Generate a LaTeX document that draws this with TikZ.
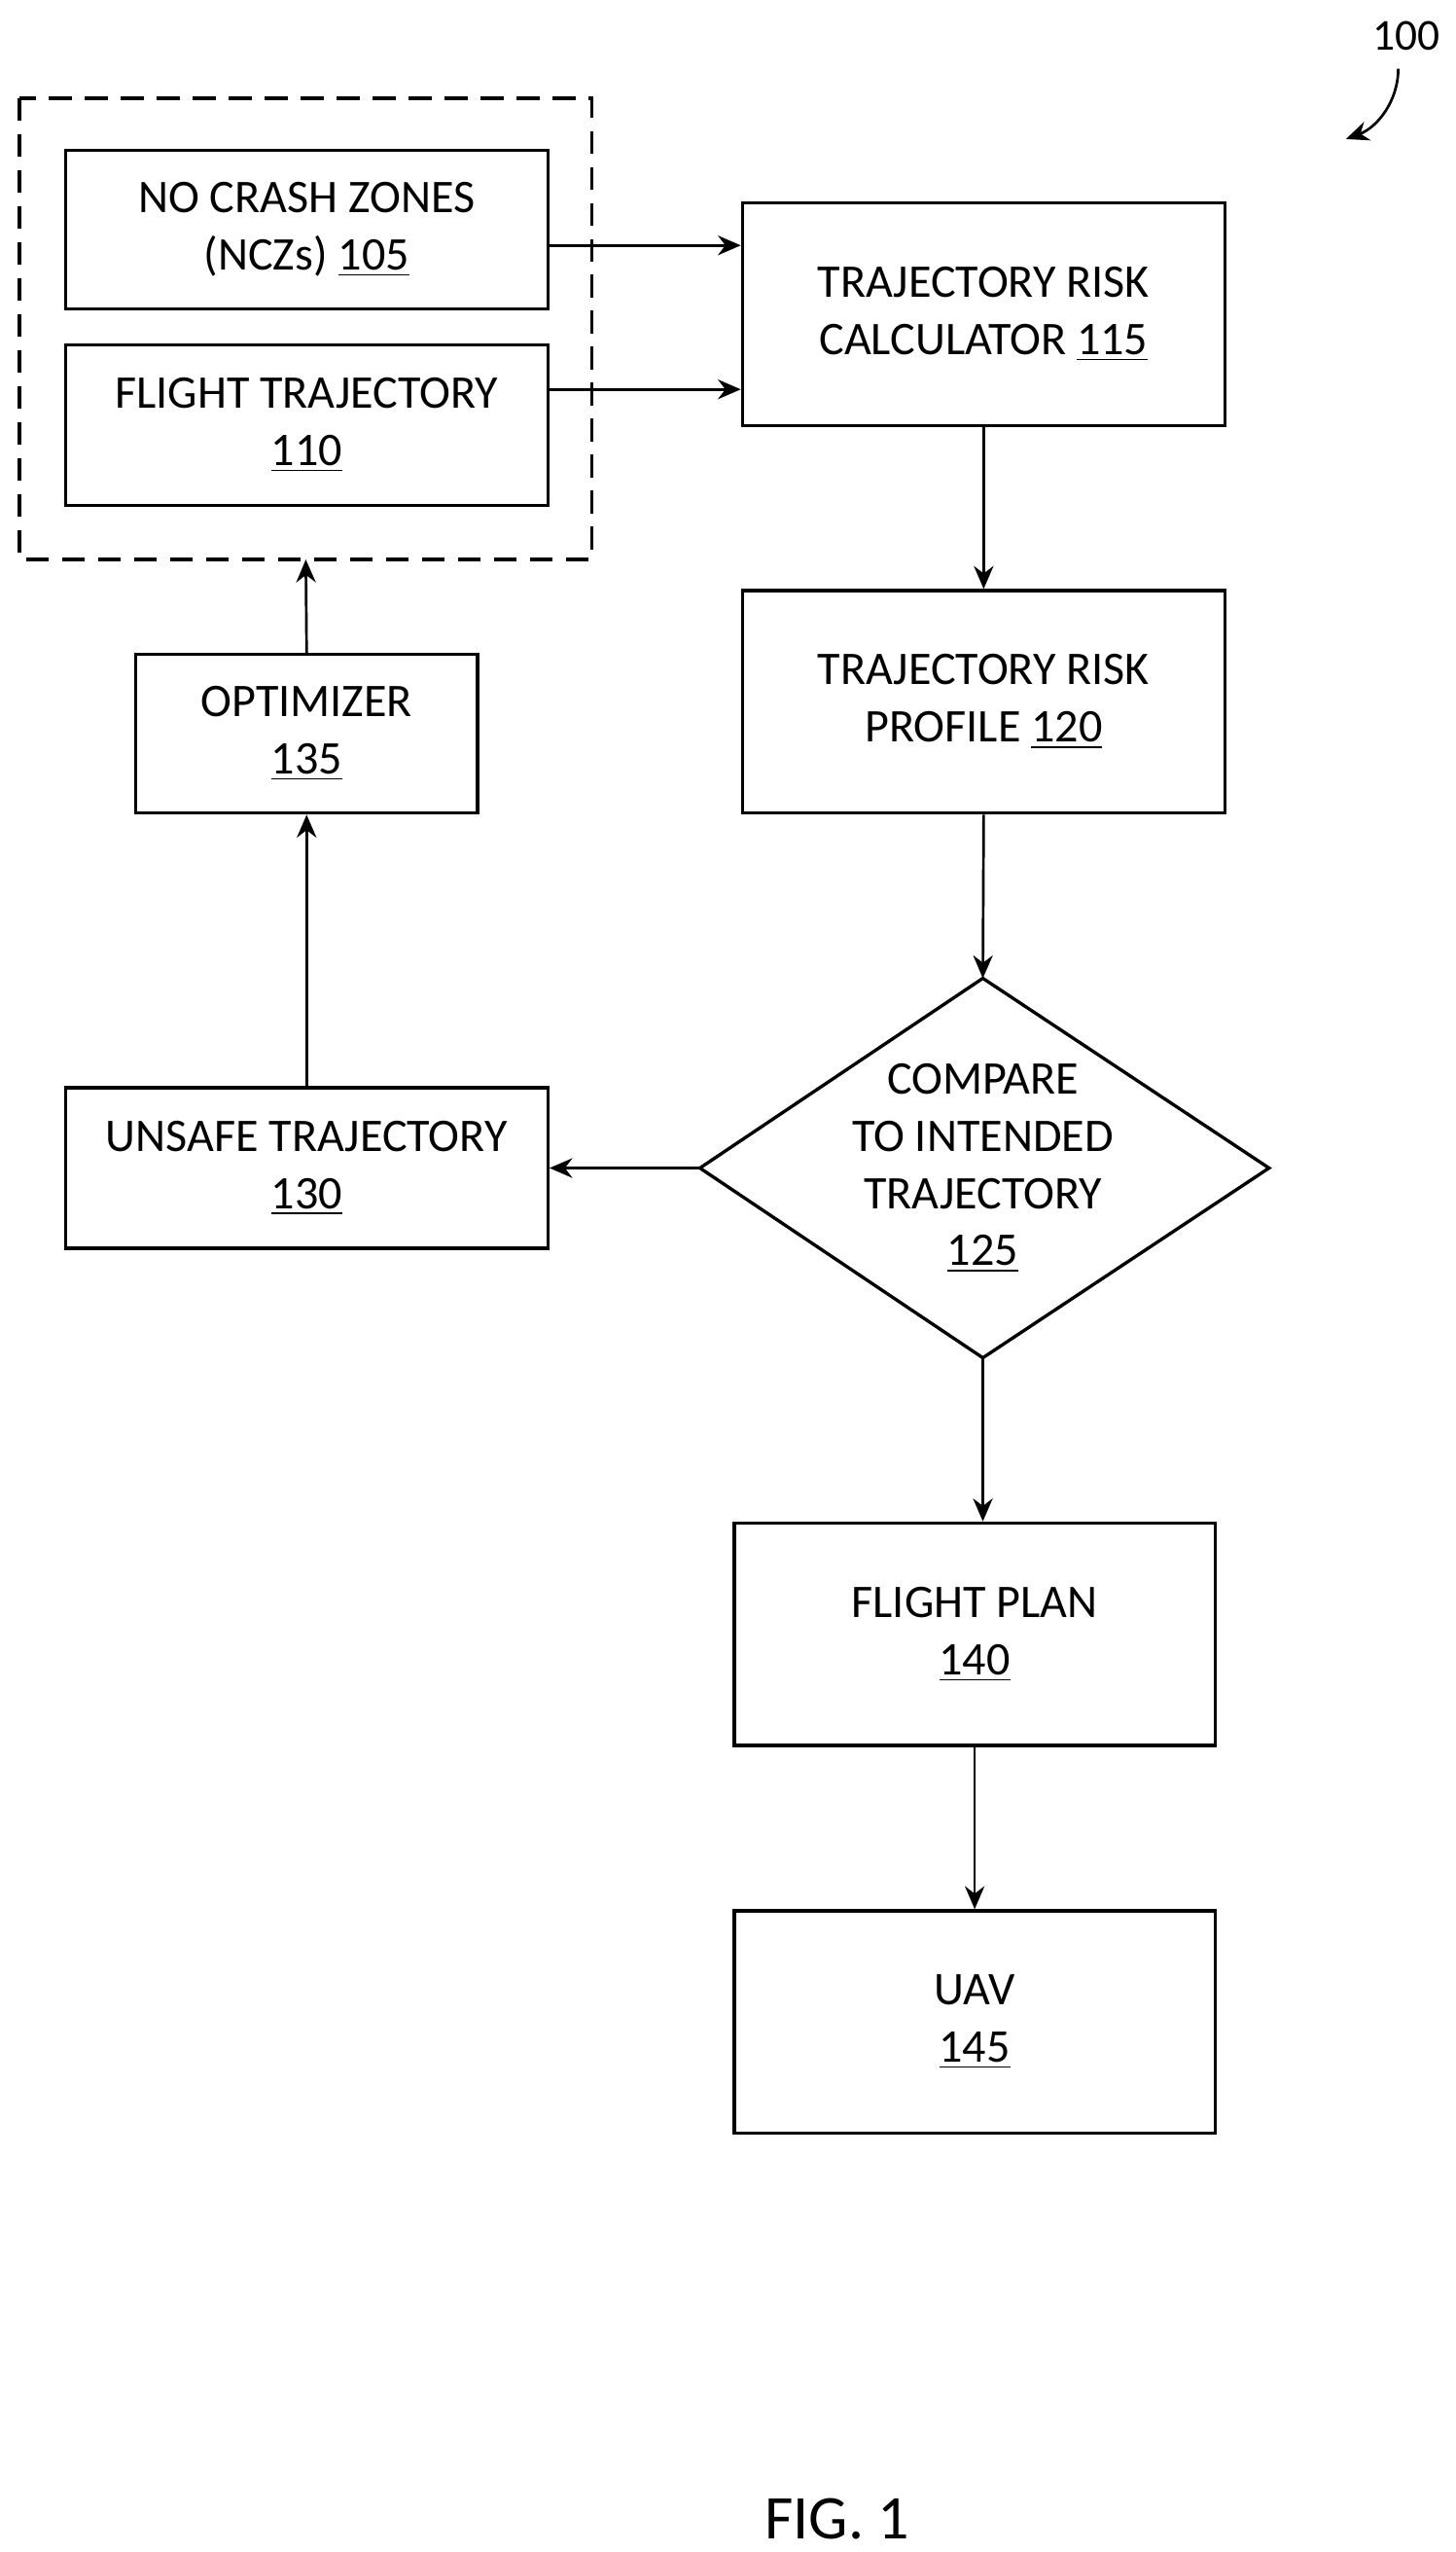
\documentclass[tikz,border=0pt]{standalone}
\usepackage{fontspec}
\setmainfont{Carlito}
\usetikzlibrary{arrows.meta,shapes.geometric}
\begin{document}
\begin{tikzpicture}[x=0.5pt,y=-0.5pt,
  box/.style={draw,line width=1pt,align=center,font=\fontsize{14.3}{17.5}\selectfont,inner sep=0},
  arr/.style={-{Stealth[length=7pt,width=6pt]},line width=0.8pt}]
\useasboundingbox (0,0) rectangle (890,1560);
\draw[dashed,line width=1pt,dash pattern=on 7pt off 4pt] (12,60) rectangle (362,342);
\node[box,minimum width=147.5pt,minimum height=48.5pt] (ncz) at (187.5,140.5) {NO CRASH ZONES\\(NCZs) \underline{105}};
\node[box,minimum width=147.5pt,minimum height=49pt] (ft) at (187.5,260) {FLIGHT TRAJECTORY\\\underline{110}};
\node[box,minimum width=147.5pt,minimum height=68pt] (trc) at (601.5,192) {TRAJECTORY RISK\\CALCULATOR \underline{115}};
\node[box,minimum width=147.5pt,minimum height=68pt] (trp) at (601.5,429) {TRAJECTORY RISK\\PROFILE \underline{120}};
\node[box,minimum width=104.5pt,minimum height=48.5pt] (opt) at (187.5,448.5) {OPTIMIZER\\\underline{135}};
\node[box,minimum width=147.5pt,minimum height=49pt] (uns) at (187.5,714) {UNSAFE TRAJECTORY\\\underline{130}};
\draw[line width=1pt] (428,714) coordinate (dl) -- (601,598) coordinate (dt) -- (776,714) -- (601,830) coordinate (db) -- cycle;
\node[align=center,font=\fontsize{14.3}{17.5}\selectfont] (cmp) at (601,714) {COMPARE\\TO INTENDED\\TRAJECTORY\\\underline{125}};
\node[box,minimum width=147pt,minimum height=68pt] (fp) at (596,999) {FLIGHT PLAN\\\underline{140}};
\node[box,minimum width=147pt,minimum height=68pt] (uav) at (596,1236) {UAV\\\underline{145}};
\node[font=\fontsize{19}{22}\selectfont] (fig) at (512,1540) {FIG. 1};
\node[font=\fontsize{13.5}{15}\selectfont] (lbl) at (860,22) {100};
\coordinate (c1) at (855,42);
\coordinate (c2) at (823,85);
\draw[arr] (c1) .. controls (855,62) and (842,78) .. (c2);
\draw[arr] (ncz.east|-0,150) -- (trc.west|-0,150);
\draw[arr] (ft.east|-0,238) -- (trc.west|-0,238);
\draw[arr] (trc) -- (trp);
\draw[arr] (trp.south) -- (dt);
\draw[arr] (dl) -- (uns);
\draw[arr] (uns) -- (opt);
\draw[arr] (opt.north) -- (187,342);
\draw[arr] (db) -- (db|-fp.north);
\draw[arr] (fp) -- (uav);
\end{tikzpicture}
\end{document}
